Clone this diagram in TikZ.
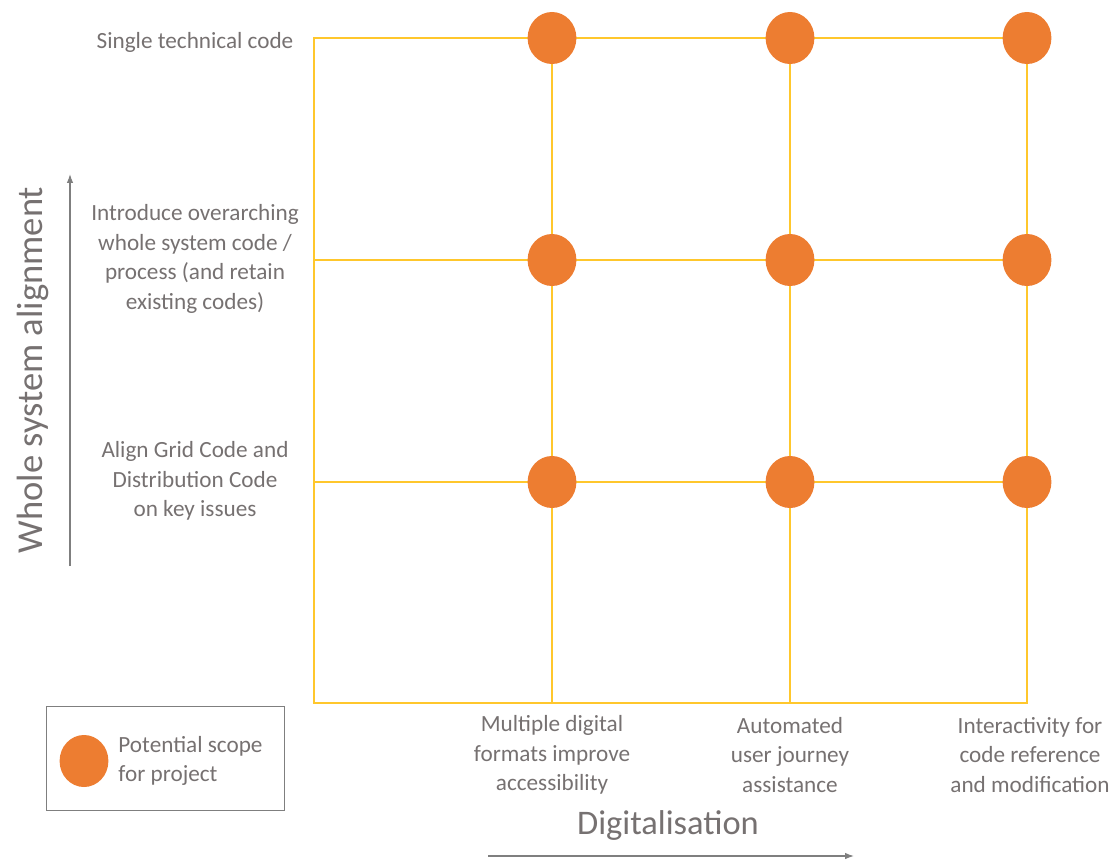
\documentclass[tikz,border=0pt]{standalone}
\usepackage{fontspec}
\setmainfont{Carlito}
\usepackage{tikz}
\usetikzlibrary{arrows.meta,positioning,shapes.geometric}

\definecolor{scopeorange}{HTML}{ED7D31}
\definecolor{gridgold}{HTML}{FFC72C}
\definecolor{labelgray}{HTML}{767171}
\definecolor{axisgray}{HTML}{7F7F7F}

\begin{document}
\begin{tikzpicture}[
        x=0.025cm, y=-0.025cm,
        dot/.style={ellipse, fill=scopeorange, minimum width=1.22cm, minimum height=1.3cm, inner sep=0pt},
        gridline/.style={draw=gridgold, line width=1.4pt},
        axis/.style={draw=axisgray, line width=0.9pt, -{Latex[length=2.2mm, width=1.6mm]}},
        lbl/.style={text=labelgray, font=\fontsize{16.5}{21}\selectfont, align=center},
        title/.style={text=labelgray, font=\fontsize{26}{30}\selectfont},
    ]
    \useasboundingbox (0,0) rectangle (1115,862);

    % === GRID ===
    \coordinate (g00) at (314, 38);
    \coordinate (g10) at (552, 38);
    \coordinate (g20) at (790, 38);
    \coordinate (g30) at (1027, 38);
    \coordinate (g01) at (314, 260);
    \coordinate (g31) at (1027, 260);
    \coordinate (g02) at (314, 482);
    \coordinate (g32) at (1027, 482);
    \coordinate (g03) at (314, 703);
    \coordinate (g13) at (552, 703);
    \coordinate (g23) at (790, 703);
    \coordinate (g33) at (1027, 703);

    \draw[gridline] (g00) rectangle (g33);
    \draw[gridline] (g10) -- (g13);
    \draw[gridline] (g20) -- (g23);
    \draw[gridline] (g01) -- (g31);
    \draw[gridline] (g02) -- (g32);

    % === SCOPE DOTS ===
    \node[dot] (d11) at (552, 38) {};
    \node[dot] (d21) at (790, 38) {};
    \node[dot] (d31) at (1027, 38) {};
    \node[dot] (d12) at (552, 260) {};
    \node[dot] (d22) at (790, 260) {};
    \node[dot] (d32) at (1027, 260) {};
    \node[dot] (d13) at (552, 482) {};
    \node[dot] (d23) at (790, 482) {};
    \node[dot] (d33) at (1027, 482) {};

    % === ROW LABELS ===
    \node[lbl] (rsingle) at (195, 42) {Single technical code};
    \node[lbl] (roverarch) at (195, 259) {Introduce overarching\\whole system code /\\process (and retain\\existing codes)};
    \node[lbl] (ralign) at (195, 481) {Align Grid Code and\\Distribution Code\\on key issues};

    % === COLUMN LABELS ===
    \node[lbl] (cformats) at (552, 755) {Multiple digital\\formats improve\\accessibility};
    \node[lbl] (cjourney) at (790, 755) {Automated\\user journey\\assistance};
    \node[lbl] (cinteract) at (1030, 755) {Interactivity for\\code reference\\and modification};

    % === AXES ===
    \node[title, rotate=90] (ytitle) at (33, 370) {Whole system alignment};
    \coordinate (ybottom) at (70, 566);
    \coordinate (ytop) at (70, 174);
    \draw[axis] (ybottom) -- (ytop);

    \node[title, font=\fontsize{24.5}{28}\selectfont] (xtitle) at (668, 825) {Digitalisation};
    \coordinate (xleft) at (488, 856);
    \coordinate (xright) at (854, 856);
    \draw[axis] (xleft) -- (xright);

    % === LEGEND ===
    \node[draw=axisgray, line width=0.6pt, minimum width=5.93cm, minimum height=2.6cm] (legend) at (165.5, 758) {};
    \node[dot] (ldot) at (84, 761) {};
    \node[lbl, align=left, right=0.12cm of ldot] (ltext) {Potential scope\\for project};

\end{tikzpicture}
\end{document}
